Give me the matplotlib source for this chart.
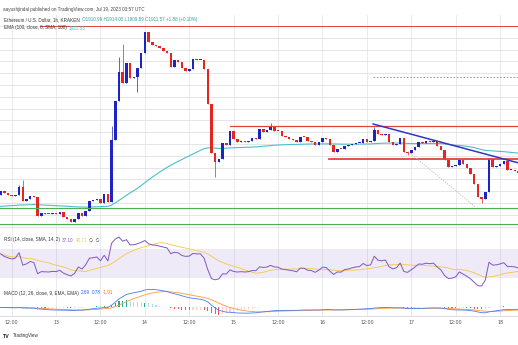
import numpy as np
import pandas as pd
import matplotlib
matplotlib.use('Agg')
import matplotlib.pyplot as plt

# ETH/USD hourly candles (KRAKEN), hour 0 = Jul 12 12:00 UTC
first_hour = -3
first_open = 1886.9
closes = [
    1890.3, 1888.3, 1887.2, 1886.3, 1887.2, 1893.4, 1881.8, 1883.2, 1886.0, 1884.9,
    1869.1, 1871.4, 1871.1, 1870.8, 1871.4, 1871.1, 1872.2, 1868.5, 1866.3, 1864.3,
    1866.3, 1871.9, 1869.4, 1873.6, 1881.8, 1882.4, 1883.5, 1879.8, 1887.5, 1881.2,
    1933.5, 1966.6, 1991.4, 1982.1, 1998.5, 1985.8, 1986.6, 1994.2, 2007.0, 2024.8,
    2016.8, 2014.0, 2013.2, 2011.2, 2009.2, 2007.5, 1995.1, 2001.3, 1999.9, 1994.2,
    1992.3, 1993.4, 2001.9, 2001.0, 2001.3, 1993.4, 1964.0, 1922.2, 1915.1, 1917.4,
    1930.7, 1929.6, 1941.1, 1934.1, 1932.1, 1932.9, 1931.8, 1932.4, 1934.9, 1934.4,
    1942.5, 1940.6, 1941.7, 1944.8, 1941.4, 1940.9, 1936.9, 1935.8, 1934.6, 1933.5,
    1931.5, 1936.3, 1936.0, 1932.7, 1932.1, 1929.3, 1931.5, 1934.9, 1934.4, 1929.3,
    1923.6, 1926.2, 1925.9, 1928.4, 1929.0, 1930.1, 1931.0, 1931.2, 1934.1, 1932.1,
    1932.7, 1942.0, 1938.3, 1937.7, 1938.6, 1931.8, 1929.0, 1930.1, 1934.9, 1923.6,
    1922.2, 1925.0, 1927.9, 1931.5, 1931.2, 1932.4, 1931.8, 1932.4, 1928.4, 1925.0,
    1916.6, 1910.9, 1911.2, 1912.3, 1916.6, 1913.2, 1909.5, 1904.7, 1896.2, 1884.9,
    1883.8, 1889.7, 1917.1, 1910.9, 1911.5, 1913.2, 1915.7, 1908.1, 1908.1, 1907.5,
    1905.3,
]
# wicks that stick out of the bodies
wick_highs = {2: 1895.4, 3: 1899.6, 27: 1945.4, 29: 2004.1, 30: 2014.9, 36: 2025.3,
              70: 1947.6, 98: 1944.2, 129: 1918.0}
wick_lows = {34: 1974.5, 55: 1902.4, 107: 1920.8, 127: 1880.4}

# drawn levels and trendlines
ema_start = 1877.0
red_levels = [2030.1, 1945.3, 1917.1]
red_level_from = [7.6, 59.0, 85.7]
red_level_width = [0.7, 0.9, 1.3]
green_levels = [1875.6, 1862.3]
gray_level = 1987.1
gray_level_from = 97.6
trend_x = [97.7, 136.8]
trend_y = [1947.0, 1914.2]
dotted_x = [107.2, 125.2]
dotted_y = [1923.6, 1877.0]

tick_hours = [0, 12, 24, 36, 48, 60, 72, 84, 96, 108, 120, 132]
tick_labels = ['12:00', '13', '12:00', '14', '12:00', '15', '12:00', '16', '12:00', '17', '12:00', '18']

closes = np.array(closes)
hours = np.arange(first_hour, first_hour + len(closes))
opens = np.concatenate([[first_open], closes[:-1]])
highs = np.maximum(opens, closes)
lows = np.minimum(opens, closes)
for h, v in wick_highs.items():
    highs[h - first_hour] = v
for h, v in wick_lows.items():
    lows[h - first_hour] = v

# indicators
def ema(x, n, seed):
    out = np.empty(len(x))
    prev = seed
    a = 2.0 / (n + 1)
    for i, v in enumerate(x):
        prev = prev + a * (v - prev)
        out[i] = prev
    return out

ema100 = ema(closes, 100, ema_start)

diff = np.diff(np.concatenate([[first_open], closes]))
gain = np.clip(diff, 0, None)
loss = np.clip(-diff, 0, None)
ag, al = 1.5, 1.0
rsi = []
for g, l in zip(gain, loss):
    ag = ag + (g - ag) / 14
    al = al + (l - al) / 14
    rsi.append(100 - 100 / (1 + ag / al))
rsi = np.array(rsi)
rsi_ma = pd.Series(rsi).rolling(14, min_periods=1).mean().values

macd = ema(closes, 12, closes[0]) - ema(closes, 26, closes[0])
signal = ema(macd, 9, 0.0)
hist = macd - signal

W, H = 518, 345
fig = plt.figure(figsize=(W / 100, H / 100), dpi=100)
fig.patch.set_facecolor('white')

def pane(top, bottom):
    ax = fig.add_axes([0, 1 - bottom / H, 1, (bottom - top) / H])
    ax.set_xlim(-3.16, 136.84)
    ax.set_xticks([])
    ax.set_yticks([])
    for s in ['top', 'left', 'right']:
        ax.spines[s].set_visible(False)
    ax.spines['bottom'].set_color('#d8dbe2')
    ax.spines['bottom'].set_linewidth(0.7)
    for h in tick_hours:
        ax.axvline(h, color='#e4e6eb', lw=0.6, zorder=0)
    return ax

up_col, down_col = '#1f23c6', '#e3261f'

ax = pane(15, 229)
ax.set_ylim(1858.05, 2039.4)
for p in np.arange(1860, 2040, 10):
    ax.axhline(p, color='#e0e0e0', lw=0.6, zorder=0)

cols = np.where(closes >= opens, up_col, down_col)
ax.vlines(hours, lows, highs, colors=cols, lw=0.5, zorder=3)
body = np.maximum(np.abs(closes - opens), 0.9)
ax.bar(hours, body, bottom=np.minimum(opens, closes), width=0.66, color=cols, lw=0, zorder=4)
ax.plot(hours, ema100, color='#4cbfcc', lw=0.8, zorder=2)

for lv, x0, lw in zip(red_levels, red_level_from, red_level_width):
    ax.plot([x0, 140], [lv, lv], color='#e2443a', lw=lw, zorder=5)
for lv in green_levels:
    ax.axhline(lv, color='#4caf50', lw=0.8, zorder=5)
ax.plot([gray_level_from, 140], [gray_level, gray_level], color='#8c8c8c', lw=0.6,
        ls=(0, (2, 2)), zorder=5)
ax.plot(trend_x, trend_y, color='#3535c0', lw=1.1, zorder=6)
ax.plot(dotted_x, dotted_y, color='#b9b9b9', lw=0.6, ls=(0, (1.5, 1.5)), zorder=5)

rax = pane(229, 288)
rax.set_ylim(16.6, 98)
rax.axhspan(30, 70, color='#7e57c2', alpha=0.12, lw=0, zorder=0)
rax.plot(hours, rsi_ma, color='#f5c842', lw=0.6, zorder=2)
rax.plot(hours, rsi, color='#7e57c2', lw=0.7, zorder=3)

max_ = pane(288, 316)
hcol = []
for i, v in enumerate(hist):
    prev = hist[i - 1] if i else 0
    if v >= 0:
        hcol.append('#26a69a' if v > prev else '#b2dfdb')
    else:
        hcol.append('#ff5252' if v < prev else '#ffcdd2')
max_.bar(hours, hist, width=0.3, color=hcol, lw=0, zorder=1)
max_.plot(hours, signal, color='#ff9a3c', lw=0.6, zorder=2)
max_.plot(hours, macd, color='#4b7bf0', lw=0.6, zorder=3)
max_.margins(x=0, y=0.06)
max_.set_xlim(-3.16, 136.84)

for h, lab in zip(tick_hours, tick_labels):
    fig.text((11.7 + 3.7 * h) / W, 1 - 323 / H, lab, ha='center', va='center',
             fontsize=3.4, color='#555555')

fig.canvas.draw()
r = fig.canvas.get_renderer()
fams = ['Liberation Sans', 'DejaVu Sans']

def chain(x, y, parts, size=3.3, weight='normal'):
    x = x / W
    for s, c in parts:
        t = fig.text(x, 1 - y / H, s, color=c, fontsize=size, va='center', ha='left',
                     family=fams, weight=weight, zorder=10)
        x += (t.get_window_extent(renderer=r).width + 2.0) / W

chain(3, 10, [('aayushjindal published on TradingView.com, Jul 19, 2023 03:57 UTC', '#444444')])
chain(4, 20, [('Ethereum / U.S. Dollar, 1h, KRAKEN', '#333333'),
              ('O1910.99 H1914.00 L1909.89 C1911.57 +1.88 (+0.10%)', '#26a69a')])
chain(4, 28, [('EMA (100, close, 0, SMA, 100)', '#333333'), ('1921.83', '#26c6da')])
chain(4, 240, [('RSI (14, close, SMA, 14, 2)', '#333333'), ('37.10', '#7e57c2'),
               ('40.71', '#f5c842'), ('\u2205  \u2205', '#333333')])
chain(4, 293, [('MACD (12, 26, close, 9, EMA, EMA)', '#333333'), ('2.69', '#2962ff'),
               ('0.78', '#2962ff'), ('-1.91', '#ff6d00')])
chain(3, 336, [('TV', '#131722')], size=3.8, weight='bold')
chain(13, 336, [('TradingView', '#333333')])

fig.savefig('out.png', dpi=100)
